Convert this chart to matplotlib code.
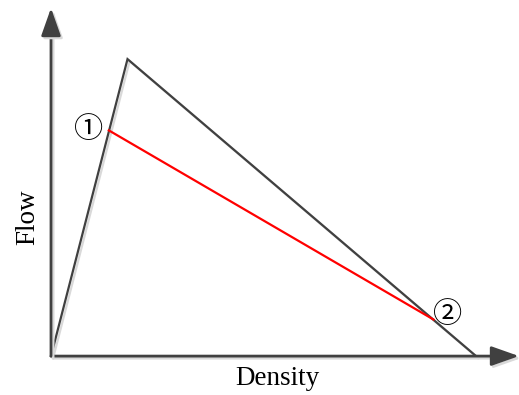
import matplotlib
matplotlib.use("Agg")
import matplotlib.pyplot as plt
import matplotlib.patheffects as pe

# Triangular fundamental diagram (arbitrary units)
tri_density = [0, 18, 100]
tri_flow = [0, 100, 0]
# Red chord between the two states
chord_density = [13.6, 90]
chord_flow = [76, 12.3]
state_labels = ["①", "②"]
label_density = [8.9, 93.4]
label_flow = [75.8, 13.8]
x_label = "Density"
y_label = "Flow"

dark = "#404040"
shadow = [pe.SimpleLineShadow(offset=(1.5, -1.5), shadow_color="#d9d9d9", alpha=1), pe.Normal()]

fig = plt.figure(figsize=(5.19, 3.95), dpi=100)
ax = fig.add_axes([0, 0, 1, 1])
ax.set_xlim(-12, 110.1)
ax.set_ylim(-13.1, 119.9)
ax.axis("off")

# axes arrows
for end in [(110.1, 0), (0, 117.2)]:
    ax.annotate("", xy=end, xytext=(0, 0),
                arrowprops=dict(arrowstyle="-|>,head_length=17,head_width=6", mutation_scale=1,
                                color=dark, lw=2.0, shrinkA=0, shrinkB=0,
                                path_effects=shadow))

ax.plot(tri_density, tri_flow, color=dark, lw=1.6, solid_joinstyle="miter", path_effects=shadow)
ax.plot(chord_density, chord_flow, color="#ff0000", lw=1.6)

for lab, d, f in zip(state_labels, label_density, label_flow):
    ax.text(d, f, lab, fontsize=21, ha="center", va="center",
            family=["Liberation Serif", "Noto Sans CJK SC", "DejaVu Sans"])

ax.text(53.2, -7.4, x_label, fontsize=19.5, ha="center", va="center", family="Liberation Serif")
ax.text(-5.4, 46.8, y_label, fontsize=19.5, ha="center", va="center", rotation=90, family="Liberation Serif")

fig.savefig("out.png", dpi=100)
